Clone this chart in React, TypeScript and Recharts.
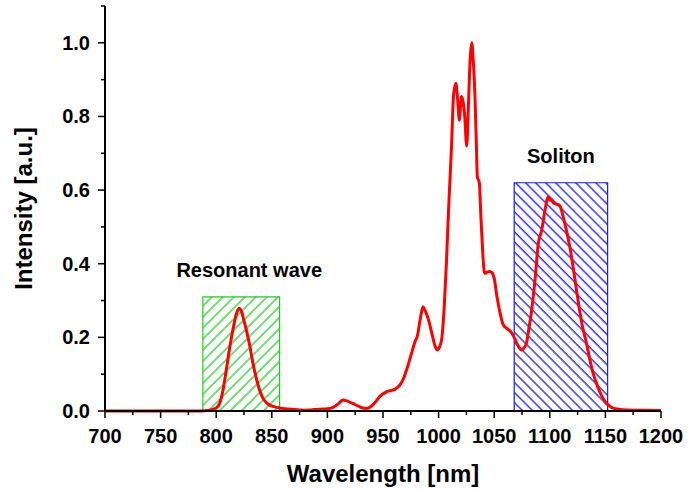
import {
  LineChart,
  Line,
  XAxis,
  YAxis,
  ReferenceArea,
} from 'recharts';

const WAVELENGTH = [
  700, 750, 780, 790, 795, 800, 803, 806, 809, 812, 815, 818, 820.5, 823, 825,
  827.5, 830, 833, 836, 839, 842, 845, 848, 852, 857, 862, 870, 878, 885, 893,
  900, 905, 910, 914, 918, 923, 928, 932, 935, 938, 942, 947, 953, 956, 959,
  962, 965, 968, 971, 975, 979, 981, 983.5, 986, 988, 991, 994, 997, 999, 1001,
  1003, 1005, 1007, 1009, 1011.5, 1013.5, 1015.5, 1017, 1018.7, 1020.5, 1022,
  1023.5, 1025.3, 1026.5, 1027.6, 1029.8, 1031, 1032.7, 1034, 1034.8, 1036.6,
  1038, 1039, 1041, 1042, 1044, 1046, 1048, 1050, 1052.5, 1055, 1058, 1061,
  1065, 1068, 1071, 1074.7, 1077, 1079, 1081, 1083.7, 1086.7, 1089.7, 1092.7,
  1095.7, 1098.7, 1100.2, 1101.5, 1103, 1106, 1109, 1112, 1115, 1118, 1121,
  1124, 1127, 1129, 1133, 1136, 1139, 1142, 1145, 1148, 1151, 1154, 1157, 1162,
  1170, 1185, 1200,
];

const INTENSITY = [
  0, 0, 0, 0.001, 0.003, 0.008, 0.02, 0.055, 0.11, 0.17, 0.22, 0.262, 0.279,
  0.268, 0.245, 0.215, 0.18, 0.13, 0.09, 0.057, 0.035, 0.023, 0.016, 0.012,
  0.008, 0.006, 0.004, 0.002, 0.003, 0.005, 0.006, 0.01, 0.02, 0.03, 0.027,
  0.02, 0.013, 0.008, 0.007, 0.01, 0.02, 0.039, 0.052, 0.055, 0.057, 0.062,
  0.07, 0.085, 0.11, 0.15, 0.19, 0.205, 0.25, 0.283, 0.272, 0.247, 0.21, 0.175,
  0.166, 0.175, 0.2, 0.28, 0.4, 0.55, 0.71, 0.86, 0.89, 0.85, 0.79, 0.854,
  0.84, 0.8, 0.72, 0.8, 0.9, 1.0, 0.96, 0.854, 0.72, 0.637, 0.62, 0.53, 0.47,
  0.38, 0.374, 0.378, 0.379, 0.376, 0.36, 0.31, 0.27, 0.235, 0.225, 0.215, 0.2,
  0.18, 0.166, 0.172, 0.184, 0.22, 0.274, 0.356, 0.456, 0.49, 0.546, 0.582,
  0.572, 0.575, 0.566, 0.562, 0.558, 0.528, 0.49, 0.446, 0.39, 0.329, 0.27,
  0.235, 0.184, 0.14, 0.102, 0.075, 0.052, 0.034, 0.021, 0.013, 0.008, 0.005,
  0.003, 0.002, 0.001,
];

const X_TICKS = [
  700, 725, 750, 775, 800, 825, 850, 875, 900, 925, 950, 975, 1000, 1025, 1050,
  1075, 1100, 1125, 1150, 1175, 1200,
];
const Y_TICKS = [0, 0.1, 0.2, 0.3, 0.4, 0.5, 0.6, 0.7, 0.8, 0.9, 1.0, 1.1];

// shaded spectral bands: [start, end, height]
const RESONANT_BAND = [788, 857, 0.31];
const SOLITON_BAND = [1068, 1152, 0.62];

const data = WAVELENGTH.map((w, i) => ({ w, v: INTENSITY[i] }));

const FONT = '"Liberation Sans", Arial, sans-serif';

function BottomTick(props: any) {
  const { x, y, payload } = props;
  const major = payload.value % 50 === 0;
  return (
    <g>
      <line x1={x} x2={x} y1={y} y2={y + (major ? 7 : 4)} stroke="#000" strokeWidth={1.5} />
      {major && (
        <text x={x} y={y + 32} textAnchor="middle" fontFamily={FONT} fontSize={20} fontWeight="bold" fill="#000">
          {payload.value}
        </text>
      )}
    </g>
  );
}

function LeftTick(props: any) {
  const { x, y, payload } = props;
  const major = Math.round(payload.value * 10) % 2 === 0;
  return (
    <g>
      <line x1={x - (major ? 7 : 4)} x2={x} y1={y} y2={y} stroke="#000" strokeWidth={1.5} />
      {major && payload.value < 1.05 && (
        <text x={x - 15} y={y + 7} textAnchor="end" fontFamily={FONT} fontSize={20} fontWeight="bold" fill="#000">
          {payload.value.toFixed(1)}
        </text>
      )}
    </g>
  );
}

function TopTick(props: any) {
  const { x, y } = props;
  return <line x1={x} x2={x} y1={y - 1} y2={y + 3} stroke="#000" strokeWidth={1.5} />;
}

function RightTick(props: any) {
  const { x, y } = props;
  return <line x1={x - 3} x2={x + 1} y1={y} y2={y} stroke="#000" strokeWidth={1.5} />;
}

function YTitle(props: any) {
  const { viewBox } = props;
  const cy = viewBox.y + viewBox.height / 2;
  return (
    <text
      transform={`translate(24, ${cy}) rotate(-90)`}
      textAnchor="middle"
      dy="0.35em"
      fontFamily={FONT}
      fontSize={24}
      fontWeight="bold"
      fill="#000"
    >
      Intensity [a.u.]
    </text>
  );
}

function BandLabel(props: any) {
  const { viewBox, text, dx = 0 } = props;
  return (
    <text
      x={viewBox.x + viewBox.width / 2 + dx}
      y={viewBox.y - 20}
      textAnchor="middle"
      fontFamily={FONT}
      fontSize={20}
      fontWeight="bold"
      fill="#000"
    >
      {text}
    </text>
  );
}

export default function App() {
  return (
    <div style={{ position: 'absolute', left: 0, top: 0, background: '#fff' }}>
      <LineChart width={688} height={490} data={data} margin={{ top: 6, right: 27, bottom: 0, left: 0 }}>
        <defs>
          <pattern id="hatchGreen" patternUnits="userSpaceOnUse" width="7.8" height="7.8" patternTransform="rotate(45)">
            <line x1="1" y1="0" x2="1" y2="7.8" stroke="#22cc22" strokeWidth="1.3" />
          </pattern>
          <pattern id="hatchBlue" patternUnits="userSpaceOnUse" width="7.1" height="7.1" patternTransform="rotate(-45)">
            <line x1="1" y1="0" x2="1" y2="7.1" stroke="#1a1aff" strokeWidth="1.3" />
          </pattern>
        </defs>
        <XAxis
          dataKey="w"
          type="number"
          domain={[700, 1200]}
          ticks={X_TICKS}
          interval={0}
          height={79}
          tickSize={0}
          tickMargin={0}
          tick={<BottomTick />}
          axisLine={{ stroke: '#000', strokeWidth: 2 }}
          label={{
            value: 'Wavelength [nm]',
            position: 'insideBottom',
            offset: 8,
            fontFamily: FONT,
            fontSize: 24,
            fontWeight: 'bold',
            fill: '#000',
          }}
        />
        <XAxis
          xAxisId="top"
          orientation="top"
          type="number"
          dataKey="w"
          domain={[700, 1200]}
          ticks={X_TICKS}
          interval={0}
          height={0}
          tickSize={0}
          tickMargin={0}
          tick={<TopTick />}
          axisLine={{ stroke: '#000', strokeWidth: 2 }}
        />
        <YAxis
          type="number"
          domain={[0, 1.1]}
          ticks={Y_TICKS}
          interval={0}
          width={105}
          tickSize={0}
          tickMargin={0}
          tick={<LeftTick />}
          axisLine={{ stroke: '#000', strokeWidth: 2 }}
          label={<YTitle />}
        />
        <YAxis
          yAxisId="right"
          orientation="right"
          type="number"
          domain={[0, 1.1]}
          ticks={Y_TICKS}
          interval={0}
          width={0}
          tickSize={0}
          tickMargin={0}
          tick={<RightTick />}
          axisLine={{ stroke: '#000', strokeWidth: 2 }}
        />
        <ReferenceArea
          x1={RESONANT_BAND[0]}
          x2={RESONANT_BAND[1]}
          y1={0}
          y2={RESONANT_BAND[2]}
          fill="url(#hatchGreen)"
          fillOpacity={1}
          stroke="#22cc22"
          strokeWidth={1.2}
          label={<BandLabel text="Resonant wave" dx={8} />}
        />
        <ReferenceArea
          x1={SOLITON_BAND[0]}
          x2={SOLITON_BAND[1]}
          y1={0}
          y2={SOLITON_BAND[2]}
          fill="url(#hatchBlue)"
          fillOpacity={1}
          stroke="#1a1aff"
          strokeWidth={1.2}
          label={<BandLabel text="Soliton" />}
        />
        <Line
          type="monotone"
          dataKey="v"
          stroke="#ff0000"
          strokeWidth={3}
          dot={false}
          isAnimationActive={false}
        />
      </LineChart>
    </div>
  );
}
